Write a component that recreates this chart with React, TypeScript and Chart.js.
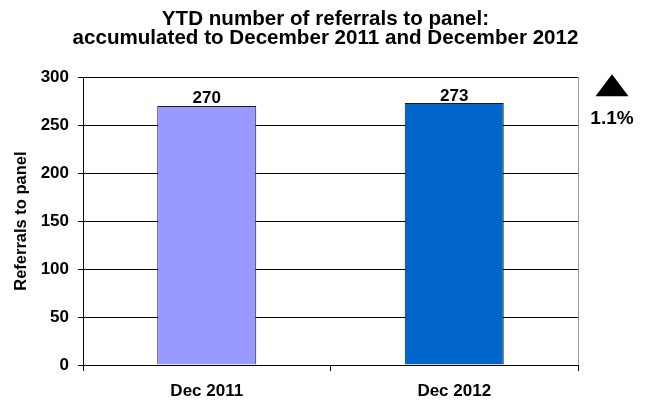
import React, { useEffect, useRef } from "react";
import { Chart, registerables } from "chart.js";

Chart.register(...registerables);

const categories = ["Dec 2011", "Dec 2012"];
const referrals = [270, 273];
const barColors = ["#9999FF", "#0066CC"];
const titleLines = [
  "YTD number of referrals to panel:",
  "accumulated to December 2011 and December 2012",
];
const yAxisTitle = "Referrals to panel";
const yMin = 0;
const yMax = 300;
const yStep = 50;
const changeLabel = "1.1%";

const FONT = "'Liberation Sans', Arial, Helvetica, sans-serif";

const overlayPlugin = {
  id: "overlay",
  afterDatasetsDraw(chart: any) {
    const { ctx, chartArea } = chart;
    const meta = chart.getDatasetMeta(0);
    ctx.save();
    ctx.fillStyle = "#000";
    ctx.font = `bold 17px ${FONT}`;
    ctx.textAlign = "center";
    ctx.textBaseline = "alphabetic";
    meta.data.forEach((bar: any, i: number) => {
      ctx.fillText(String(referrals[i]), bar.x, bar.y - 2.5);
    });
    // grey right border of plot area
    ctx.strokeStyle = "#9a9a9a";
    ctx.lineWidth = 1;
    ctx.beginPath();
    ctx.moveTo(Math.round(chartArea.right) + 0.5, chartArea.top);
    ctx.lineTo(Math.round(chartArea.right) + 0.5, chartArea.bottom);
    ctx.stroke();
    // change indicator
    const cx = chartArea.right + 34;
    const topY = chartArea.top - 3;
    ctx.fillStyle = "#000";
    ctx.beginPath();
    ctx.moveTo(cx, topY);
    ctx.lineTo(cx + 16.5, topY + 22);
    ctx.lineTo(cx - 16.5, topY + 22);
    ctx.closePath();
    ctx.fill();
    ctx.font = `bold 19px ${FONT}`;
    ctx.textAlign = "center";
    ctx.textBaseline = "alphabetic";
    ctx.fillText(changeLabel, cx, topY + 49.5);
    ctx.restore();
  },
};

export default function App() {
  const canvasRef = useRef<HTMLCanvasElement | null>(null);

  useEffect(() => {
    if (!canvasRef.current) return;
    const chart = new Chart(canvasRef.current, {
      type: "bar",
      data: {
        labels: categories,
        datasets: [
          {
            data: referrals,
            backgroundColor: barColors,
            borderColor: "#1a1a1a",
            borderWidth: 1,
            barPercentage: 0.4,
            categoryPercentage: 1,
          },
        ],
      },
      options: {
        responsive: false,
        animation: false,
        devicePixelRatio: 1,
        layout: { padding: { left: 0, right: 0, top: 0, bottom: 0 } },
        plugins: {
          legend: { display: false },
          tooltip: { enabled: false },
          title: {
            display: true,
            text: titleLines,
            color: "#000",
            font: { family: FONT, size: 20.6, weight: "bold", lineHeight: 0.95 },
            padding: { top: 9.3, bottom: 28.7 },
          },
        },
        scales: {
          x: {
            offset: true,
            grid: {
              offset: true,
              drawOnChartArea: false,
              drawTicks: true,
              tickLength: 6,
              color: "#000",
            },
            border: { display: true, color: "#000" },
            ticks: {
              color: "#000",
              padding: 10,
              font: { family: FONT, size: 17, weight: "bold" },
            },
            afterFit: (scale: any) => {
              scale.height = 38;
            },
          },
          y: {
            min: yMin,
            max: yMax,
            ticks: {
              stepSize: yStep,
              color: "#000",
              padding: 9,
              font: { family: FONT, size: 17, weight: "bold" },
            },
            grid: {
              color: "#000",
              tickLength: 5,
              drawTicks: true,
            },
            border: { display: true, color: "#000" },
            title: {
              display: true,
              text: yAxisTitle,
              color: "#000",
              font: { family: FONT, size: 16.5, weight: "bold", lineHeight: 1.2 },
              padding: { top: 12, bottom: 0 },
            },
            afterFit: (scale: any) => {
              scale.width = 83;
            },
          },
          side: {
            type: "linear",
            position: "right",
            min: yMin,
            max: yMax,
            ticks: { display: false },
            grid: { display: false, drawOnChartArea: false },
            border: { display: false },
            afterFit: (scale: any) => {
              scale.width = 73;
            },
          },
        },
      },
      plugins: [overlayPlugin],
    });
    return () => chart.destroy();
  }, []);

  return (
    <div style={{ position: "fixed", left: 0, top: 0, width: 651, height: 403, background: "#fff" }}>
      <canvas ref={canvasRef} width={651} height={403} style={{ display: "block" }} />
    </div>
  );
}
